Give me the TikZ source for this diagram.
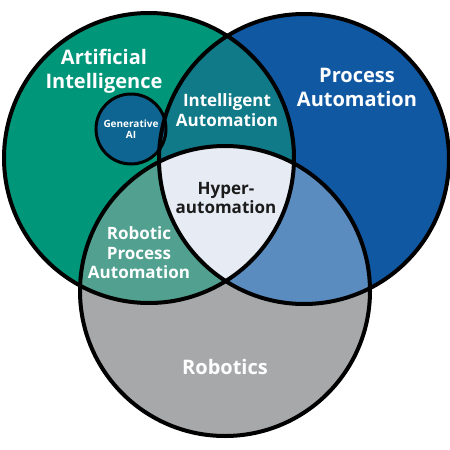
\documentclass[tikz,border=0pt]{standalone}
\usepackage{fontspec}
\setmainfont{Open Sans}
\usepackage{xcolor}
\usepackage{tikz}
\usetikzlibrary{positioning}

\definecolor{aigreen}{HTML}{00967A}
\definecolor{pablue}{HTML}{1158A3}
\definecolor{iateal}{HTML}{117A88}
\definecolor{rpagreen}{HTML}{52A190}
\definecolor{parob}{HTML}{5A8CC0}
\definecolor{robgray}{HTML}{A7A8AA}
\definecolor{hyperfill}{HTML}{E6EBF4}
\definecolor{genblue}{HTML}{0F6592}
\definecolor{darktext}{HTML}{1B1B1B}

\begin{document}
\begin{tikzpicture}[
    x=1pt, y=-1pt,
    outline/.style={draw=black, line width=4pt},
    biglabel/.style={font=\fontsize{20}{24}\selectfont\bfseries, text=white, align=center, inner sep=0pt},
    midlabel/.style={font=\fontsize{17}{19.5}\selectfont\bfseries, text=white, align=center, inner sep=0pt},
    smalllabel/.style={font=\fontsize{10}{11.5}\selectfont\bfseries, text=white, align=center, inner sep=0pt}
]
\useasboundingbox (0,0) rectangle (450,450);

% Circle centres
\coordinate (ai) at (149,158);
\coordinate (pa) at (304,159);
\coordinate (rob) at (225,291);
\coordinate (gen) at (131,129);

% Base fills
\fill[aigreen] (ai) circle[radius=145pt];
\fill[pablue] (pa) circle[radius=145pt];
\fill[robgray] (rob) circle[radius=145pt];

% Overlaps
\begin{scope}
    \clip (ai) circle[radius=145pt];
    \fill[iateal] (pa) circle[radius=145pt];
    \fill[rpagreen] (rob) circle[radius=145pt];
\end{scope}
\begin{scope}
    \clip (pa) circle[radius=145pt];
    \fill[parob] (rob) circle[radius=145pt];
\end{scope}
\begin{scope}
    \clip (ai) circle[radius=145pt];
    \clip (pa) circle[radius=145pt];
    \fill[hyperfill] (rob) circle[radius=145pt];
\end{scope}

% Generative AI bubble
\draw[fill=genblue, line width=3pt] (gen) circle[radius=35pt];

% Outlines
\foreach \c in {ai, pa, rob} {
    \draw[outline] (\c) circle[radius=145pt];
}

% Labels
\node[biglabel] (ailabel) at (104,71) {Artificial\\Intelligence};
\node[biglabel] (palabel) at (357,87) {Process\\Automation};
\node[biglabel] (roblabel) at (225,367) {Robotics};
\node[midlabel] (ialabel) at (227,110) {Intelligent\\Automation};
\node[midlabel, text=darktext] (hyperlabel) at (226,198) {Hyper-\\automation};
\node[midlabel] (rpalabel) at (139,253) {Robotic\\Process\\Automation};
\node[smalllabel] (genlabel) at (131,129) {Generative\\AI};

\end{tikzpicture}
\end{document}
